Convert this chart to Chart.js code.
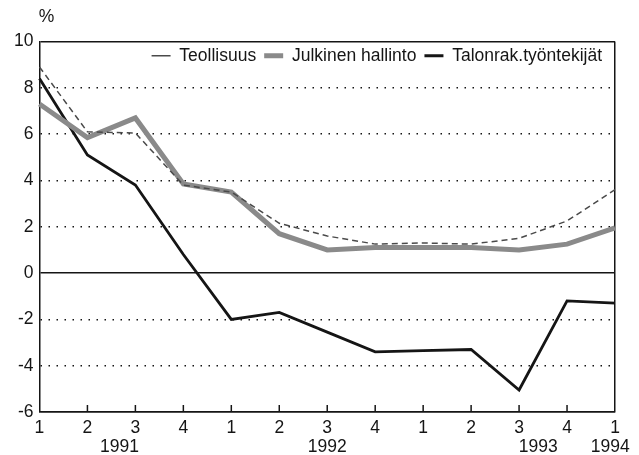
<!DOCTYPE html>
<html lang="fi">
<head>
    <meta charset="UTF-8">
    <title>Ansiokehitys</title>
    <script src="https://cdn.jsdelivr.net/npm/chart.js"></script>
    <style>
        body { margin: 0; background: #fff; }
        canvas { display: block; }
    </style>
</head>
<body>
    <canvas id="chart" width="639" height="455"></canvas>

    <script>
        // quarters 1991Q1 .. 1994Q1
        const quarters = ['1', '2', '3', '4', '1', '2', '3', '4', '1', '2', '3', '4', '1'];
        const years = ['1991', '1992', '1993', '1994'];

        const teollisuus = [8.9, 6.1, 6.05, 3.8, 3.5, 2.15, 1.6, 1.25, 1.3, 1.25, 1.5, 2.25, 3.6];
        const julkinen = [7.3, 5.85, 6.7, 3.85, 3.5, 1.7, 1.0, 1.1, 1.1, 1.1, 1.0, 1.25, 1.95];
        const talonrak = [8.4, 5.1, 3.8, 0.8, -2.0, -1.7, -2.55, -3.4, -3.35, -3.3, -5.05, -1.2, -1.3];

        const FONT = 'Liberation Sans, Arial, sans-serif';
        const INK = '#151515';

        // year captions under the quarter numbers, % sign, inward tick marks
        const extras = {
            id: 'extras',
            afterLayout(chart) {
                // pull the legend down inside the plot frame
                const lg = chart.legend;
                const dy = chart.chartArea.top + 16 - (lg.top + lg.options.labels.padding + 10.5);
                lg.top += dy;
                lg.bottom += dy;
                lg.left -= 5;
                lg.right -= 5;
            },
            afterDraw(chart) {
                const c = chart.ctx;
                const x = chart.scales.x;
                const area = chart.chartArea;
                c.save();
                c.strokeStyle = INK;
                c.lineWidth = 1.5;
                for (let i = 1; i < quarters.length - 1; i++) {
                    const px = x.getPixelForValue(i);
                    c.beginPath();
                    c.moveTo(px, area.bottom);
                    c.lineTo(px, area.bottom - 7);
                    c.stroke();
                }
                c.fillStyle = INK;
                c.font = '17.5px ' + FONT;
                c.textAlign = 'center';
                c.textBaseline = 'middle';
                const yearAt = [1.67, 6, 10.4, 11.9];
                years.forEach((y, i) => c.fillText(y, x.getPixelForValue(yearAt[i]), 447));
                c.fillText('%', area.left + 7, 17);
                c.restore();
            }
        };

        const solidAt = v => v === 10 || v === -6 || v === 0;

        new Chart(document.getElementById('chart'), {
            type: 'line',
            data: {
                labels: quarters,
                datasets: [
                    {
                        label: 'Teollisuus',
                        data: teollisuus,
                        borderColor: '#4a4a4a',
                        borderWidth: 1.5,
                        borderDash: [6, 4],
                        pointRadius: 0,
                        tension: 0
                    },
                    {
                        label: 'Julkinen hallinto',
                        data: julkinen,
                        borderColor: '#8a8a8a',
                        borderWidth: 5,
                        pointRadius: 0,
                        tension: 0
                    },
                    {
                        label: 'Talonrak.työntekijät',
                        data: talonrak,
                        borderColor: INK,
                        borderWidth: 2.8,
                        pointRadius: 0,
                        tension: 0
                    }
                ]
            },
            options: {
                responsive: false,
                animation: false,
                layout: { padding: { top: 6, right: 24, bottom: 10, left: 8 } },
                plugins: {
                    tooltip: { enabled: false },
                    legend: {
                        position: 'top',
                        align: 'end',
                        labels: {
                            usePointStyle: true,
                            pointStyle: 'line',
                            pointStyleWidth: 19,
                            color: INK,
                            padding: 8,
                            font: { family: FONT, size: 17.5 }
                        }
                    }
                },
                scales: {
                    x: {
                        grid: {
                            drawTicks: false,
                            lineWidth: 1.5,
                            color: c => c.index === quarters.length - 1 ? INK : 'transparent'
                        },
                        border: { color: INK, width: 1.5 },
                        ticks: {
                            color: INK,
                            padding: 6,
                            maxRotation: 0,
                            autoSkip: false,
                            font: { family: FONT, size: 17.5 }
                        }
                    },
                    y: {
                        min: -6,
                        max: 10,
                        grid: {
                            drawTicks: false,
                            color: INK,
                            lineWidth: 1.5
                        },
                        border: {
                            color: INK,
                            width: 1.5,
                            dash: c => (c.tick && !solidAt(c.tick.value)) ? [1.5, 6.5] : []
                        },
                        ticks: {
                            stepSize: 2,
                            color: INK,
                            padding: 6,
                            font: { family: FONT, size: 17.5 }
                        }
                    }
                }
            },
            plugins: [extras]
        });
    </script>
</body>
</html>
